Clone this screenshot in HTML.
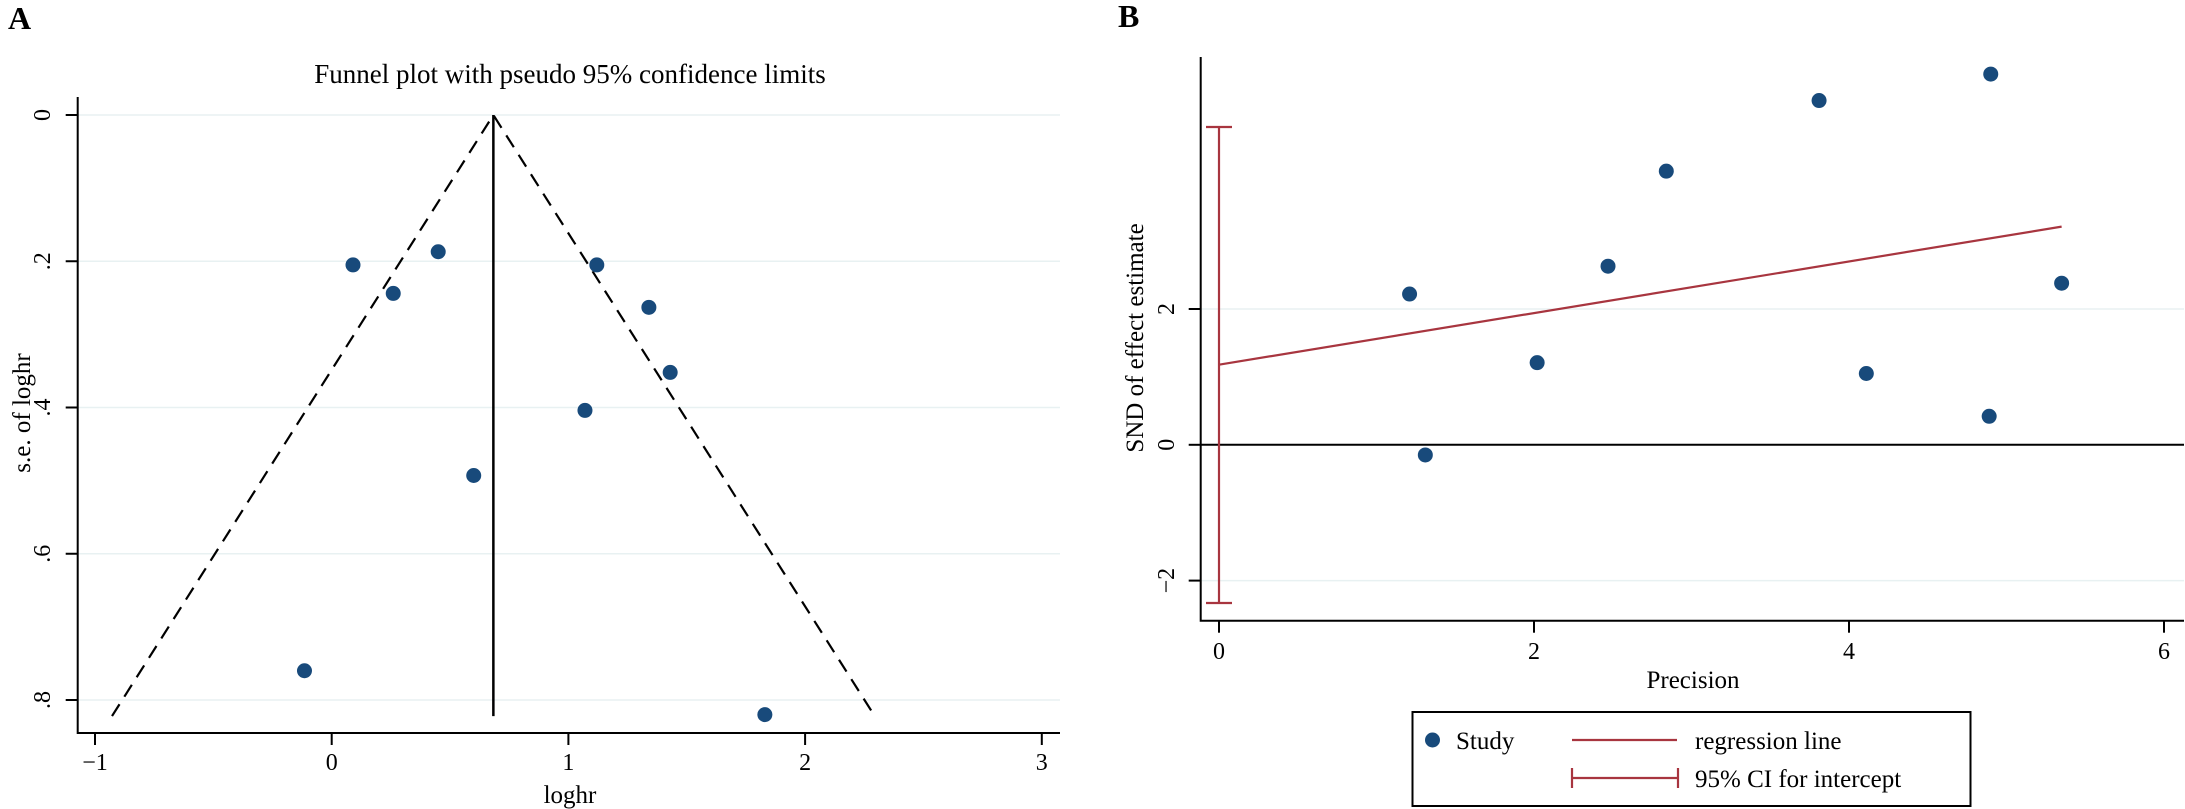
<!DOCTYPE html>
<html><head><meta charset="utf-8">
<style>
html,body{margin:0;padding:0;background:#fff;}
svg{display:block;font-family:"Liberation Serif",serif;}
</style></head>
<body>
<svg id="fig" width="2185" height="809" viewBox="0 0 2185 809" xmlns="http://www.w3.org/2000/svg">
<text x="8" y="29" font-size="32" font-weight="bold">A</text>
<text x="1118" y="27" font-size="32" font-weight="bold">B</text>
<text x="570" y="83" font-size="27" text-anchor="middle">Funnel plot with pseudo 95% confidence limits</text>
<g id="ga"></g>
<g id="gb"></g>
</svg>
<script>
// Panel A data
const aLoghr = [0.09, 0.45, 0.26, 1.12, 1.34, 1.43, 1.07, 0.60, -0.115, 1.83];
const aSe = [0.205, 0.187, 0.244, 0.205, 0.263, 0.352, 0.404, 0.493, 0.76, 0.82];
const aPooled = 0.683;
const aSeMax = 0.822;
const aXTicks = [-1, 0, 1, 2, 3];
const aXTickLabels = ["\u22121", "0", "1", "2", "3"];
const aYTicks = [0, 0.2, 0.4, 0.6, 0.8];
const aYTickLabels = ["0", ".2", ".4", ".6", ".8"];
// Panel B data
const bPrecision = [1.21, 1.31, 2.02, 2.47, 2.84, 3.81, 4.11, 4.90, 4.89, 5.35];
const bSnd = [2.22, -0.15, 1.21, 2.63, 4.03, 5.07, 1.05, 5.46, 0.42, 2.38];
const bIntercept = 1.18;
const bSlope = 0.38;
const bCI = [-2.33, 4.68];
const bXTicks = [0, 2, 4, 6];
const bXTickLabels = ["0", "2", "4", "6"];
const bYTicks = [-2, 0, 2];
const bYTickLabels = ["\u22122", "0", "2"];

const NS = "http://www.w3.org/2000/svg";
function mk(parent, tag, attrs, text) {
  const e = document.createElementNS(NS, tag);
  for (const k in attrs) e.setAttribute(k, attrs[k]);
  if (text !== undefined) e.textContent = text;
  parent.appendChild(e);
  return e;
}
const DOT = "#184a7b", RED = "#a8353f", GRID = "#e8f1f2";

// ----- Panel A -----
const ga = document.getElementById("ga");
const axA = v => 331.7 + v * 236.7;
const ayA = v => 115 + v * 731.25;
const aLeft = 77.7, aRight = 1060, aTop = 97, aBottom = 733;
aYTicks.forEach((t, i) => {
  let g = mk(ga, "line", {x1: aLeft, x2: aRight, y1: ayA(t), y2: ayA(t), stroke: GRID, "stroke-width": 1.5});
  
  
  let tk = mk(ga, "line", {x1: aLeft - 12, x2: aLeft, y1: ayA(t), y2: ayA(t), stroke: "#000", "stroke-width": 2});
  
  
  let lb = mk(ga, "text", {x: 0, y: 0, "font-size": 24, "text-anchor": "middle", transform: `translate(50,${ayA(t)}) rotate(-90)`}, aYTickLabels[i]);
  
  
});
aXTicks.forEach((t, i) => {
  let tk = mk(ga, "line", {x1: axA(t), x2: axA(t), y1: aBottom, y2: aBottom + 12, stroke: "#000", "stroke-width": 2});
  
  
  let lb = mk(ga, "text", {x: axA(t), y: 770, "font-size": 24, "text-anchor": "middle"}, aXTickLabels[i]);
  
  
});
let axl = mk(ga, "polyline", {points: `${aLeft},${aTop} ${aLeft},${aBottom} ${aRight},${aBottom}`, fill: "none", stroke: "#000", "stroke-width": 2});


let yt = mk(ga, "text", {x: 0, y: 0, "font-size": 25, "text-anchor": "middle", transform: "translate(30,413) rotate(-90)"}, "s.e. of loghr");


let xt = mk(ga, "text", {x: 570, y: 803, "font-size": 25, "text-anchor": "middle"}, "loghr");


// funnel limits
let fl = mk(ga, "polyline", {points: `${axA(aPooled - 1.96 * aSeMax)},${ayA(aSeMax)} ${axA(aPooled)},${ayA(0)} ${axA(aPooled + 1.96 * aSeMax)},${ayA(aSeMax)}`, fill: "none", stroke: "#000", "stroke-width": 2.2, "stroke-dasharray": "14 9"});


let pl = mk(ga, "line", {x1: axA(aPooled), x2: axA(aPooled), y1: ayA(0), y2: ayA(aSeMax), stroke: "#000", "stroke-width": 2.5});


aLoghr.forEach((v, i) => {
  let c = mk(ga, "circle", {cx: axA(v), cy: ayA(aSe[i]), r: 7.5, fill: DOT});
  
  
});

// ----- Panel B -----
const gb = document.getElementById("gb");
const bxS = v => 1219 + v * 157.5;
const byS = v => 444.8 - v * 67.9;
const bLeft = 1200.7, bRight = 2184, bTop = 57, bBottom = 620.7;
bYTicks.forEach((t, i) => {
  if (t !== 0) {
    let g = mk(gb, "line", {x1: bLeft, x2: bRight, y1: byS(t), y2: byS(t), stroke: GRID, "stroke-width": 1.5});
    
    
  }
  let tk = mk(gb, "line", {x1: bLeft - 12, x2: bLeft, y1: byS(t), y2: byS(t), stroke: "#000", "stroke-width": 2});
  
  
  let lb = mk(gb, "text", {x: 0, y: 0, "font-size": 24, "text-anchor": "middle", transform: `translate(1174,${byS(t)}) rotate(-90)`}, bYTickLabels[i]);
  
  
});
let zl = mk(gb, "line", {x1: bLeft, x2: bRight, y1: byS(0), y2: byS(0), stroke: "#000", "stroke-width": 2});


bXTicks.forEach((t, i) => {
  let tk = mk(gb, "line", {x1: bxS(t), x2: bxS(t), y1: bBottom, y2: bBottom + 12, stroke: "#000", "stroke-width": 2});
  
  
  let lb = mk(gb, "text", {x: bxS(t), y: 659, "font-size": 24, "text-anchor": "middle"}, bXTickLabels[i]);
  
  
});
let bax = mk(gb, "polyline", {points: `${bLeft},${bTop} ${bLeft},${bBottom} ${bRight},${bBottom}`, fill: "none", stroke: "#000", "stroke-width": 2});


let byt = mk(gb, "text", {x: 0, y: 0, "font-size": 25, "text-anchor": "middle", transform: "translate(1143,338) rotate(-90)"}, "SND of effect estimate");


let bxt = mk(gb, "text", {x: 1693, y: 688, "font-size": 25, "text-anchor": "middle"}, "Precision");


// CI for intercept
const ciX = bxS(0);
let ci = mk(gb, "path", {d: `M${ciX},${byS(bCI[0])}V${byS(bCI[1])}M${ciX - 13},${byS(bCI[0])}H${ciX + 13}M${ciX - 13},${byS(bCI[1])}H${ciX + 13}`, fill: "none", stroke: RED, "stroke-width": 2.2});


const pMax = Math.max(...bPrecision);
let rl = mk(gb, "line", {x1: bxS(0), y1: byS(bIntercept), x2: bxS(pMax), y2: byS(bIntercept + bSlope * pMax), stroke: RED, "stroke-width": 2.2});


bPrecision.forEach((v, i) => {
  let c = mk(gb, "circle", {cx: bxS(v), cy: byS(bSnd[i]), r: 7.5, fill: DOT});
  
  
});
// legend
const lg = mk(gb, "g", {});


let box = mk(lg, "rect", {x: 1412.5, y: 712, width: 558, height: 94, fill: "#fff", stroke: "#000", "stroke-width": 2});


let ld = mk(lg, "circle", {cx: 1432.5, cy: 740, r: 7.5, fill: DOT});


let lt1 = mk(lg, "text", {x: 1456, y: 749, "font-size": 25}, "Study");


let lr = mk(lg, "line", {x1: 1572, x2: 1677, y1: 740, y2: 740, stroke: RED, "stroke-width": 2.2});


let lt2 = mk(lg, "text", {x: 1695, y: 749, "font-size": 25}, "regression line");


let lc = mk(lg, "path", {d: "M1572,768V788M1572,778H1678M1678,768V788", fill: "none", stroke: RED, "stroke-width": 2.2});


let lt3 = mk(lg, "text", {x: 1695, y: 787, "font-size": 25}, "95% CI for intercept");


</script>
</body></html>
